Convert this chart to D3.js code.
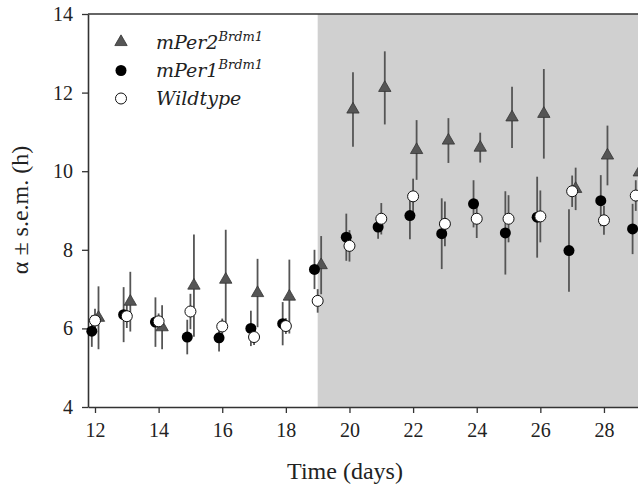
<!DOCTYPE html>
<html>
<head>
<meta charset="utf-8">
<script src="https://cdn.jsdelivr.net/npm/d3@7"></script>
<style>
  body { margin: 0; background: #fff; }
  svg text { font-family: "Liberation Serif", "DejaVu Serif", serif; fill: #222; }
  svg text.leyenda { font-family: "DejaVu Serif", serif; font-style: italic; }
</style>
</head>
<body>
<div id="chart"></div>
<script>
// dias del experimento
var days = [12, 13, 14, 15, 16, 17, 18, 19, 20, 21, 22, 23, 24, 25, 26, 27, 28, 29];

// mPer2 Brdm1 (triangulos)
var per2Mean = [6.27, 6.68, 6.03, 7.09, 7.24, 6.90, 6.81, 7.61, 11.57, 12.12, 10.54, 10.78, 10.60, 11.37, 11.46, 9.55, 10.40, 9.97];
var per2Sem  = [0.80, 0.76, 0.56, 1.30, 1.27, 0.87, 0.94, 0.74, 0.95, 0.93, 0.76, 0.57, 0.38, 0.78, 1.14, 0.54, 0.76, 0.60];

// mPer1 Brdm1 (circulos negros)
var per1Mean = [5.93, 6.35, 6.16, 5.78, 5.76, 6.00, 6.12, 7.50, 8.32, 8.58, 8.87, 8.41, 9.17, 8.43, 8.83, 7.98, 9.25, 8.53];
var per1Sem  = [0.40, 0.70, 0.63, 0.44, 0.35, 0.45, 0.55, 0.50, 0.60, 0.30, 0.60, 0.90, 0.60, 1.06, 1.03, 1.05, 0.65, 0.64];

// Wildtype (circulos blancos)
var wtMean = [6.20, 6.31, 6.18, 6.43, 6.05, 5.78, 6.06, 6.70, 8.10, 8.79, 9.36, 8.66, 8.79, 8.79, 8.85, 9.49, 8.75, 9.38];
var wtSem  = [0.30, 0.30, 0.20, 0.45, 0.20, 0.20, 0.20, 0.30, 0.40, 0.40, 0.45, 0.57, 0.49, 0.60, 0.66, 0.40, 0.37, 0.39];

var xTicks = [12, 14, 16, 18, 20, 22, 24, 26, 28];
var yTicks = [4, 6, 8, 10, 12, 14];
var shadeStart = 19;

var W = 638, H = 489;
var margen = {left: 88, right: 638, top: 14, bottom: 407};

var svg = d3.select("#chart").append("svg")
  .attr("width", W)
  .attr("height", H);

var x = d3.scaleLinear().domain([11.78, 29.07]).range([margen.left, margen.right]);
var y = d3.scaleLinear().domain([4, 14]).range([margen.bottom, margen.top]);

// zona gris (oscuridad constante)
svg.append("rect")
  .attr("x", x(shadeStart))
  .attr("y", y(14))
  .attr("width", margen.right - x(shadeStart))
  .attr("height", y(4) - y(14))
  .attr("fill", "#d0d0d0");

// ejes
var xAxis = svg.append("g")
  .attr("transform", "translate(0," + margen.bottom + ")")
  .call(d3.axisBottom(x).tickValues(xTicks).tickSize(6).tickPadding(10).tickSizeOuter(0));
var yAxis = svg.append("g")
  .attr("transform", "translate(" + margen.left + ",0)")
  .call(d3.axisLeft(y).tickValues(yTicks).tickSize(6).tickPadding(9).tickSizeOuter(0));

[xAxis, yAxis].forEach(function(a) {
  a.select(".domain").attr("stroke", "#333").attr("stroke-width", 1.6);
  a.selectAll(".tick line").attr("stroke", "#333").attr("stroke-width", 1.3);
  a.selectAll(".tick text").style("font-size", "20px").attr("fill", "#222");
});

// linea superior del marco
svg.append("line")
  .attr("x1", margen.left).attr("x2", margen.right)
  .attr("y1", margen.top).attr("y2", margen.top)
  .attr("stroke", "#333").attr("stroke-width", 1.4);

// series
var series = [
  { name: "per2", mean: per2Mean, sem: per2Sem, dx: 0.11 },
  { name: "per1", mean: per1Mean, sem: per1Sem, dx: -0.1 },
  { name: "wt", mean: wtMean, sem: wtSem, dx: 0.0 }
];

function rows(s) {
  return days.map(function(d, i) {
    return { day: d + s.dx, m: s.mean[i], e: s.sem[i] };
  });
}

// barras de error primero
series.forEach(function(s) {
  svg.append("g")
    .selectAll("line")
    .data(rows(s))
    .join("line")
    .attr("x1", function(d) { return x(d.day); })
    .attr("x2", function(d) { return x(d.day); })
    .attr("y1", function(d) { return y(d.m + d.e); })
    .attr("y2", function(d) { return y(d.m - d.e); })
    .attr("stroke", "#555")
    .attr("stroke-width", 1.8);
});

var tri = d3.symbol().type(d3.symbolTriangle).size(66);

// triangulos mPer2
svg.append("g")
  .selectAll("path")
  .data(rows(series[0]))
  .join("path")
  .attr("d", tri)
  .attr("transform", function(d) { return "translate(" + x(d.day) + "," + y(d.m) + ")"; })
  .attr("fill", "#555")
  .attr("stroke", "#333")
  .attr("stroke-width", 0.8);

// circulos negros mPer1
svg.append("g")
  .selectAll("circle")
  .data(rows(series[1]))
  .join("circle")
  .attr("cx", function(d) { return x(d.day); })
  .attr("cy", function(d) { return y(d.m); })
  .attr("r", 5.5)
  .attr("fill", "#000");

// circulos blancos wildtype
svg.append("g")
  .selectAll("circle")
  .data(rows(series[2]))
  .join("circle")
  .attr("cx", function(d) { return x(d.day); })
  .attr("cy", function(d) { return y(d.m); })
  .attr("r", 5.5)
  .attr("fill", "#fff")
  .attr("stroke", "#111")
  .attr("stroke-width", 1);

// leyenda
var lg = svg.append("g");
lg.append("path").attr("d", tri).attr("transform", "translate(121,42)")
  .attr("fill", "#555").attr("stroke", "#333").attr("stroke-width", 0.8);
lg.append("circle").attr("cx", 121).attr("cy", 70.5).attr("r", 5.5).attr("fill", "#000");
lg.append("circle").attr("cx", 121).attr("cy", 98.5).attr("r", 5.5)
  .attr("fill", "#fff").attr("stroke", "#111").attr("stroke-width", 1);

var legendText = [
  { main: "mPer2", sup: "Brdm1", y: 49 },
  { main: "mPer1", sup: "Brdm1", y: 77 },
  { main: "Wildtype", sup: null, y: 105 }
];
legendText.forEach(function(t) {
  var txt = lg.append("text")
    .attr("class", "leyenda")
    .attr("x", 156).attr("y", t.y)
    .style("font-size", "19px");
  txt.append("tspan").text(t.main);
  if (t.sup) {
    txt.append("tspan").attr("dy", -8).style("font-size", "13px").text(t.sup);
  }
});

// titulos de ejes
svg.append("text")
  .attr("x", 345).attr("y", 479)
  .attr("text-anchor", "middle")
  .style("font-size", "24px")
  .text("Time (days)");

svg.append("text")
  .attr("transform", "translate(28,210) rotate(-90)")
  .attr("text-anchor", "middle")
  .style("font-size", "24px")
  .text("α ± s.e.m. (h)");
</script>
</body>
</html>
